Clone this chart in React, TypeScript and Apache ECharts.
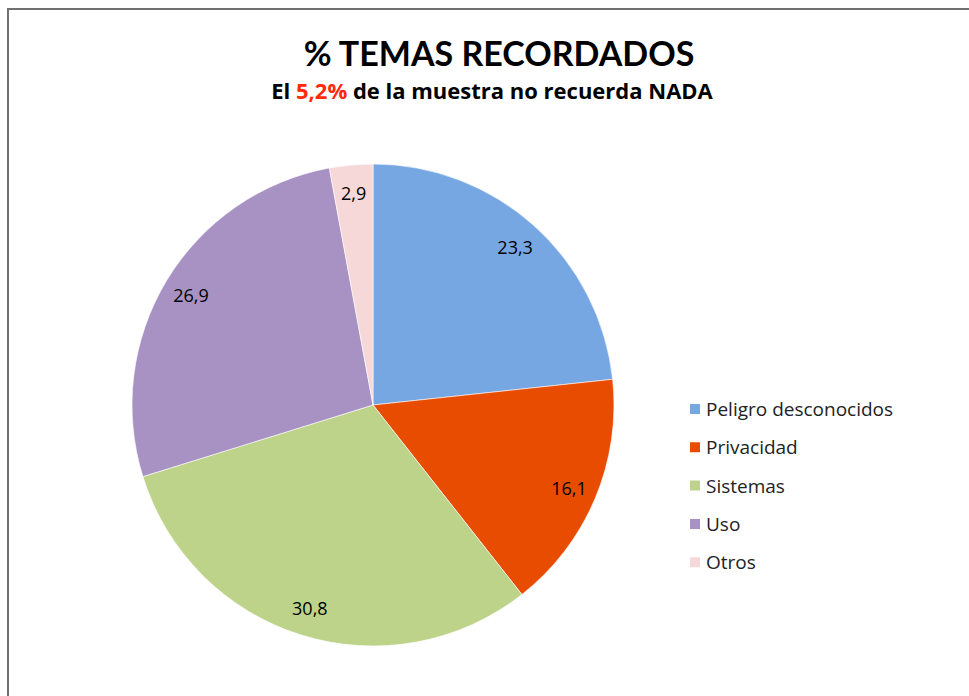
import React, { useEffect, useRef } from "react";
import * as echarts from "echarts";

const categories = ["Peligro desconocidos", "Privacidad", "Sistemas", "Uso", "Otros"];
const values = [23.3, 16.1, 30.8, 26.9, 2.9];
const colors = ["#77A7E2", "#E84C00", "#BED38A", "#A792C3", "#F6D8D9"];
const titleText = "% TEMAS RECORDADOS";
const subtitleParts = ["El ", "5,2%", " de la muestra no recuerda NADA"];

const FONT = "Lato, 'Open Sans', sans-serif";
const FONT2 = "'Open Sans', Lato, sans-serif";

export default function App() {
  const ref = useRef<HTMLDivElement>(null);
  useEffect(() => {
    document.body.style.margin = "0";
    const chart = echarts.init(ref.current!, undefined, { renderer: "svg" });
    const data = categories.map((name, i) => ({
      name,
      value: values[i],
      itemStyle: { color: colors[i] },
    }));
    const center = [373, 405];
    const R = 241;
    chart.setOption({
      animation: false,
      backgroundColor: "#ffffff",
      title: [
        {
          text: titleText,
          left: 494,
          top: 30,
          textAlign: "center",
          textStyle: { fontFamily: FONT, fontSize: 34, fontWeight: "bold", color: "#000" },
        },
        {
          text: `{n|${subtitleParts[0]}}{r|${subtitleParts[1]}}{n|${subtitleParts[2]}}`,
          left: 487,
          top: 74,
          textAlign: "center",
          textStyle: {
            fontFamily: FONT2,
            fontSize: 22,
            fontWeight: "bold",
            rich: {
              n: { fontFamily: FONT2, fontSize: 22, fontWeight: "bold", color: "#000" },
              r: { fontFamily: FONT2, fontSize: 22, fontWeight: "bold", color: "#FF2A0A" },
            },
          },
        },
      ],
      legend: {
        orient: "vertical",
        left: 688,
        top: 399,
        padding: 0,
        itemWidth: 12,
        itemHeight: 12,
        itemGap: 18.3,
        icon: "rect",
        data: categories,
        textStyle: { fontFamily: FONT2, fontSize: 19, lineHeight: 20, color: "#222", padding: [0, 0, 0, 0] },
      },
      graphic: [
        { type: "line", shape: { x1: 8, y1: 9, x2: 969, y2: 9 }, style: { stroke: "#707070", lineWidth: 2 } },
        { type: "line", shape: { x1: 8, y1: 8, x2: 8, y2: 696 }, style: { stroke: "#707070", lineWidth: 2 } },
      ],
      series: [
        {
          type: "pie",
          center,
          radius: [0, R],
          startAngle: 90,
          clockwise: true,
          silent: true,
          label: { show: false },
          labelLine: { show: false },
          itemStyle: { borderColor: "#ffffff", borderWidth: 0.6 },
          data,
        },
        {
          type: "pie",
          center,
          radius: [0, R * 0.87 * 2],
          startAngle: 90,
          clockwise: true,
          silent: true,
          itemStyle: { color: "rgba(0,0,0,0)", borderWidth: 0 },
          label: {
            show: true,
            position: "inside",
            fontFamily: FONT2,
            fontSize: 18,
            color: "#000",
            formatter: (p: any) => String(p.value).replace(".", ","),
          },
          labelLine: { show: false },
          data: categories.map((name, i) => ({ name, value: values[i], itemStyle: { color: "rgba(0,0,0,0)" } })),
        },
      ],
    });
    return () => chart.dispose();
  }, []);
  return <div ref={ref} style={{ width: 969, height: 696 }} />;
}
